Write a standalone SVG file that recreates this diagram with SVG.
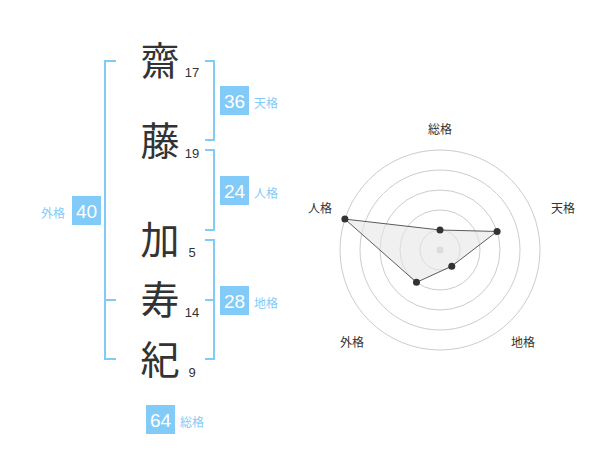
<svg xmlns="http://www.w3.org/2000/svg" width="600" height="470" viewBox="0 0 600 470">
<style>
.k{font-family:"Noto Sans CJK JP","Noto Sans CJK SC",sans-serif;font-size:39px;fill:#333;text-anchor:middle}
.n{font-family:"Liberation Sans",Arial,sans-serif;font-size:13px;fill:#333;text-anchor:middle}
.br{fill:none;stroke:#82cbf8;stroke-width:2}
.bx{fill:#82cbf8}
.bv{font-family:"Liberation Sans",Arial,sans-serif;font-size:19px;fill:#fff;text-anchor:middle}
.bl{font-family:"Noto Sans CJK JP","Noto Sans CJK SC",sans-serif;font-size:12px;fill:#82cbf8}
.ring{fill:none;stroke:#ccc;stroke-width:1}
.ax{font-family:"Noto Sans CJK JP","Noto Sans CJK SC",sans-serif;font-size:12px;fill:#333;text-anchor:middle}
.pt{fill:#333}
</style>
<g id="chars">
<g id="c1"><text class="k" x="160" y="75">齋</text><text class="n" x="192" y="77">17</text></g>
<g id="c2"><text class="k" x="160" y="155">藤</text><text class="n" x="192" y="158">19</text></g>
<g id="c3"><text class="k" x="160" y="254">加</text><text class="n" x="192" y="257">5</text></g>
<g id="c4"><text class="k" x="160" y="314">寿</text><text class="n" x="192" y="317">14</text></g>
<g id="c5"><text class="k" x="160" y="374">紀</text><text class="n" x="192" y="377">9</text></g>
</g>
<g id="connectors">
<path class="br" d="M116,61 H105 V359 H116 M105,300 H116"/>
<path class="br" d="M205,61 H214 V140 H205"/>
<path class="br" d="M205,150 H214 V230 H205"/>
<path class="br" d="M205,240 H214 V359 H205 M214,300 H205"/>
</g>
<g id="tenkaku"><rect class="bx" x="220" y="86" width="29" height="29"/><text class="bv" x="234.5" y="107.5">36</text><text class="bl" x="254" y="108">天格</text></g>
<g id="jinkaku"><rect class="bx" x="220" y="176" width="29" height="29"/><text class="bv" x="234.5" y="197.5">24</text><text class="bl" x="254" y="198">人格</text></g>
<g id="chikaku"><rect class="bx" x="220" y="286" width="29" height="29"/><text class="bv" x="234.5" y="307.5">28</text><text class="bl" x="254" y="308">地格</text></g>
<g id="gaikaku"><rect class="bx" x="72" y="196" width="29" height="29"/><text class="bv" x="86.5" y="217.5">40</text><text class="bl" x="41" y="218">外格</text></g>
<g id="soukaku"><rect class="bx" x="146" y="405" width="29" height="29"/><text class="bv" x="160.5" y="426.5">64</text><text class="bl" x="180" y="427">総格</text></g>
<g id="radar">
<circle class="ring" cx="440" cy="250" r="20"/>
<circle class="ring" cx="440" cy="250" r="40"/>
<circle class="ring" cx="440" cy="250" r="60"/>
<circle class="ring" cx="440" cy="250" r="80"/>
<circle class="ring" cx="440" cy="250" r="100"/>
<circle cx="440" cy="250" r="3.5" fill="#ccc"/>
<polygon points="440,230 497.07,231.46 451.76,266.18 416.49,282.36 344.89,219.1" fill="#e6e6e6" fill-opacity="0.6" stroke="#333" stroke-width="0.8"/>
<circle class="pt" cx="440" cy="230" r="3.5"/>
<circle class="pt" cx="497.07" cy="231.46" r="3.5"/>
<circle class="pt" cx="451.76" cy="266.18" r="3.5"/>
<circle class="pt" cx="416.49" cy="282.36" r="3.5"/>
<circle class="pt" cx="344.89" cy="219.1" r="3.5"/>
<text class="ax" x="440" y="134">総格</text>
<text class="ax" x="563" y="213">天格</text>
<text class="ax" x="320" y="213">人格</text>
<text class="ax" x="352" y="347">外格</text>
<text class="ax" x="523" y="347">地格</text>
</g>
</svg>
